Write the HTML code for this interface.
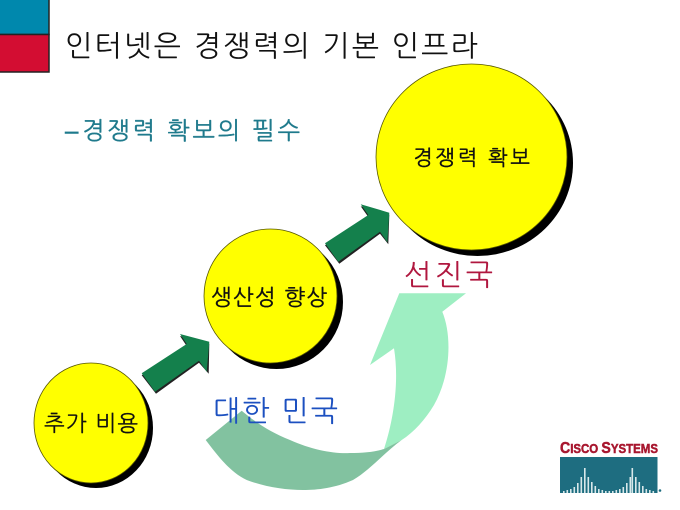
<!DOCTYPE html>
<html lang="ko">
<head>
<meta charset="utf-8">
<style>
html,body{margin:0;padding:0;background:#fff;width:680px;height:510px;overflow:hidden}
svg{display:block}
text{font-family:"Liberation Sans","NanumGothic","Noto Sans CJK KR",sans-serif}
</style>
</head>
<body>
<svg width="680" height="510" viewBox="0 0 680 510" xmlns="http://www.w3.org/2000/svg">
<rect width="680" height="510" fill="#fff"/>
<!-- corner squares -->
<rect x="-2" y="-2" width="51" height="36.5" fill="#0088ad" stroke="#222" stroke-width="1.5"/>
<rect x="-2" y="34.5" width="51" height="37.5" fill="#d30d32" stroke="#222" stroke-width="1.5"/>
<!-- title -->
<text x="65" y="56" font-size="29" fill="#111" textLength="413" lengthAdjust="spacing">인터넷은 경쟁력의 기본 인프라</text>
<text x="65" y="139" font-size="24" fill="#1f7a8c" stroke="#1f7a8c" stroke-width="0.5">–</text>
<text x="82" y="139" font-size="24" fill="#1f7a8c" stroke="#1f7a8c" stroke-width="0.35" textLength="218" lengthAdjust="spacing">경쟁력 확보의 필수</text>
<!-- circles -->
<ellipse cx="477.5" cy="163" rx="95.5" ry="93" fill="#000"/>
<ellipse cx="471.5" cy="157" rx="95.5" ry="93" fill="#ffff00" stroke="#555500" stroke-width="0.8"/>
<ellipse cx="276.5" cy="302" rx="66.5" ry="67" fill="#000"/>
<ellipse cx="270.5" cy="296" rx="66.5" ry="67" fill="#ffff00" stroke="#555500" stroke-width="0.8"/>
<ellipse cx="96" cy="428" rx="57" ry="60" fill="#000"/>
<ellipse cx="91" cy="423" rx="57" ry="60" fill="#ffff00" stroke="#555500" stroke-width="0.8"/>
<!-- straight arrows -->
<polygon points="141.7,375.3 186.7,346 180,336 209.3,343.7 208.7,373.7 199,362.7 156,393.7" fill="#222"/>
<polygon points="141.7,373.3 186.7,344 180,334 209.3,341.7 206.7,371.7 199,360.7 155,391.7" fill="#14804c"/>
<polygon points="325,245.3 368.3,217 360.7,206.3 389.3,214.7 388.3,244.3 380,233.7 339.3,263.7" fill="#222"/>
<polygon points="325,243.3 368.3,215 360.7,204.3 389.3,212.7 387.3,242.3 380,231.7 338.3,261.7" fill="#14804c"/>
<!-- curved arrow -->
<path d="M399.3,293.3 L466,293.3 L442.3,311.7 C452,335 451,375 434,405 C425,420 414,432 401.7,440 L384,449 C392,425 400,385 394,348.3 L370,365 Z" fill="#9eeec2"/>
<path d="M205.7,440 L241.7,410.7 C255,422 270,432 290,440 C312,450 335,454 350,453 C363,453 374,452 384,449 L401.7,440 C385,452 370,470 353,480 C335,488 318,490 303,490 C285,490 265,487 246.7,480 C230,472 218,456 205.7,440 Z" fill="#82c2a0"/>
<!-- labels -->
<text x="413" y="165" font-size="21" fill="#111" stroke="#111" stroke-width="0.35" textLength="117" lengthAdjust="spacing">경쟁력 확보</text>
<text x="211" y="305" font-size="22" fill="#111" stroke="#111" stroke-width="0.35" textLength="116" lengthAdjust="spacing">생산성 향상</text>
<text x="44" y="431" font-size="22" fill="#111" stroke="#111" stroke-width="0.25" textLength="94" lengthAdjust="spacing">추가 비용</text>
<text x="404" y="285" font-size="29" fill="#b0173f" textLength="89" lengthAdjust="spacing">선진국</text>
<text x="213" y="421" font-size="29" fill="#1c50c0" textLength="125" lengthAdjust="spacing">대한 민국</text>
<!-- logo -->
<text x="560" y="453" font-size="13" font-weight="700" fill="#a8172f" stroke="#a8172f" stroke-width="0.5" textLength="98" lengthAdjust="spacingAndGlyphs"><tspan font-size="16">C</tspan>ISCO <tspan font-size="16">S</tspan>YSTEMS</text>
<rect x="560" y="457" width="97.5" height="36" fill="#1e6d80"/>
<g fill="#d8e8ea">
<rect x="563" y="491" width="1.6" height="2"/>
<rect x="566.5" y="490" width="1.6" height="3"/>
<rect x="570" y="489" width="1.6" height="4"/>
<rect x="573.5" y="487" width="1.6" height="6"/>
<rect x="577" y="483" width="1.6" height="10"/>
<rect x="580.5" y="477" width="1.6" height="16"/>
<rect x="584" y="468" width="1.6" height="25"/>
<rect x="587.5" y="477" width="1.6" height="16"/>
<rect x="591" y="482" width="1.6" height="11"/>
<rect x="594.5" y="486" width="1.6" height="7"/>
<rect x="598" y="489" width="1.6" height="4"/>
<rect x="601.5" y="490" width="1.6" height="3"/>
<rect x="605" y="491" width="1.6" height="2"/>
<rect x="608.5" y="491" width="1.6" height="2"/>
<rect x="612" y="491" width="1.6" height="2"/>
<rect x="615.5" y="490" width="1.6" height="3"/>
<rect x="619" y="489" width="1.6" height="4"/>
<rect x="622.5" y="487" width="1.6" height="6"/>
<rect x="626" y="483" width="1.6" height="10"/>
<rect x="629.5" y="477" width="1.6" height="16"/>
<rect x="631.5" y="468" width="1.6" height="25"/>
<rect x="635" y="477" width="1.6" height="16"/>
<rect x="638.5" y="482" width="1.6" height="11"/>
<rect x="642" y="486" width="1.6" height="7"/>
<rect x="645.5" y="489" width="1.6" height="4"/>
<rect x="649" y="490" width="1.6" height="3"/>
<rect x="652.5" y="491" width="1.6" height="2"/>
</g>
<circle cx="660" cy="490.5" r="1.3" fill="#1e6d80"/>
</svg>
</body>
</html>
